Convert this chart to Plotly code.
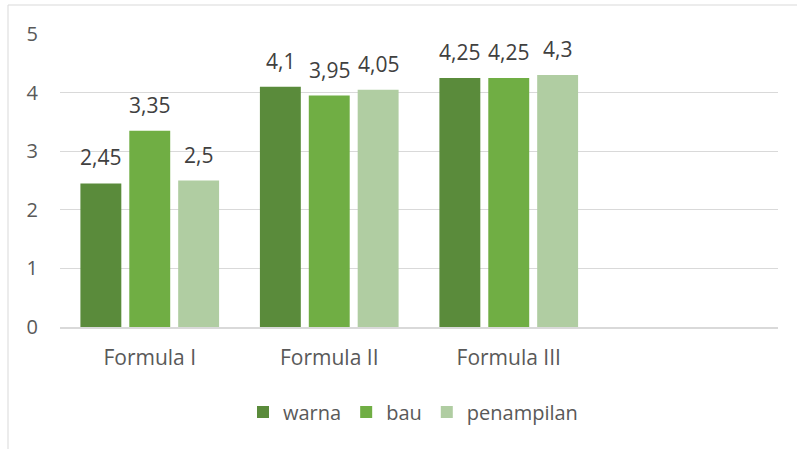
import plotly.graph_objects as go

categories = ["Formula I", "Formula II", "Formula III"]
series_names = ["warna", "bau", "penampilan"]
warna = [2.45, 4.1, 4.25]
bau = [3.35, 3.95, 4.25]
penampilan = [2.5, 4.05, 4.3]
y_ticks = [0, 1, 2, 3, 4, 5]

colors = ["#5a8b3b", "#70ae44", "#b0cda2"]
font_family = "'Open Sans', sans-serif"

def fmt(v):
    return ("%g" % v).replace(".", ",")

W, H = 797, 449
ml, mr, mt, mb = 60, 19, 34, 122
pw, ph = W - ml - mr, H - mt - mb

def px_x(x):
    return (x - ml) / pw

def px_y(y):
    return (H - mb - y) / ph

fig = go.Figure()
annotations = []
bar_step = 49  # pixel distance between bar centres within a group
for i, (name, vals, col) in enumerate(zip(series_names, [warna, bau, penampilan], colors)):
    fig.add_trace(go.Bar(
        name=name, x=categories, y=vals,
        marker=dict(color=col, line=dict(width=0)),
        hoverinfo="x+y+name",
    ))
    for c, v in zip(categories, vals):
        annotations.append(dict(
            x=c, y=v, xref="x", yref="y", text=fmt(v), showarrow=False,
            xanchor="center", yanchor="bottom", xshift=(i - 1) * bar_step, yshift=10,
            font=dict(size=21, color="#404040", family=font_family),
        ))

fig.update_layout(
    width=W, height=H,
    margin=dict(l=ml, r=mr, t=mt, b=mb, autoexpand=False),
    paper_bgcolor="white", plot_bgcolor="white",
    barmode="group", bargap=0.183, bargroupgap=0.163,
    font=dict(family=font_family, size=20, color="#595959"),
    showlegend=True,
    legend=dict(orientation="h", x=px_x(413), xanchor="center", y=px_y(412), yanchor="middle",
                font=dict(size=20, color="#595959"), itemwidth=30, traceorder="normal"),
    xaxis=dict(type="category", categoryarray=categories, range=[-0.5, 3.5],
               showgrid=False, showline=True, linecolor="#d9d9d9", linewidth=2,
               ticks="", tickfont=dict(size=21, color="#595959"), ticklabelstandoff=11,
               automargin=False),
    yaxis=dict(range=[0, 5], tickvals=y_ticks, showgrid=True, gridcolor="#d9d9d9", gridwidth=1,
               zeroline=False, showline=False, ticks="",
               tickfont=dict(size=20, color="#595959"), ticklabelstandoff=21,
               automargin=False),
    annotations=annotations,
    shapes=[
        dict(type="line", xref="paper", yref="paper", x0=px_x(8), x1=px_x(8),
             y0=px_y(5), y1=px_y(452), line=dict(color="#d9d9d9", width=1)),
        dict(type="line", xref="paper", yref="paper", x0=px_x(8), x1=px_x(800),
             y0=px_y(5), y1=px_y(5), line=dict(color="#d9d9d9", width=1)),
    ],
)

fig.write_html("out.html", config={"displayModeBar": False},
               post_script="document.body.style.margin='0';")
